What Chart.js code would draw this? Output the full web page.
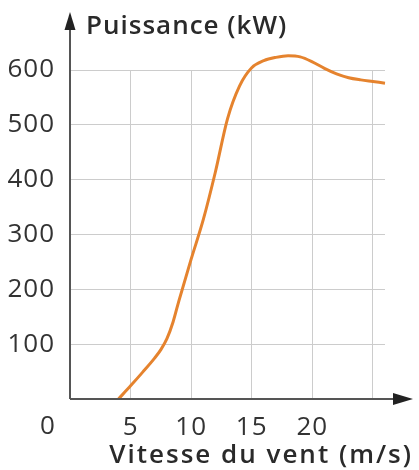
<!DOCTYPE html>
<html>
<head>
<meta charset="utf-8">
<script src="https://cdn.jsdelivr.net/npm/chart.js@4.4.0/dist/chart.umd.min.js"></script>
<style>
html,body{margin:0;padding:0;background:#fff;}
#wrap{width:419px;height:470px;position:relative;}
</style>
</head>
<body>
<div id="wrap"><canvas id="c"></canvas></div>
<script>
const windSpeed = [4, 5, 6, 7, 7.5, 8, 8.5, 9, 10, 11, 12, 13, 14, 15, 16, 17, 18, 19, 20, 21, 22, 23, 24, 25, 26];
const power = [0, 24, 49, 75, 90, 110, 140, 180, 255, 327, 414, 511, 571, 604, 617, 623, 626, 624, 615, 603, 593, 586, 582, 579, 576];
const xTicks = [0, 5, 10, 15, 20, 25];
const xTickLabels = ['', '5', '10', '15', '20', ''];
const yTicks = [0, 100, 200, 300, 400, 500, 600];
const yTickLabels = ['', '100', '200', '300', '400', '500', '600'];
const xTitle = 'Vitesse du vent (m/s)';
const yTitle = 'Puissance (kW)';
const originLabel = '0';

const FONT = "'Open Sans', sans-serif";
const TEXT = '#333333';
const AXIS = '#555555';

const spacingPlugin = {
  id: 'spacingPlugin',
  beforeDraw(chart) { chart.ctx.letterSpacing = '1px'; }
};

const axesPlugin = {
  id: 'axesPlugin',
  afterDraw(chart) {
    const ctx = chart.ctx;
    const a = chart.chartArea;
    const x0 = a.left, y0 = a.bottom;
    ctx.save();
    ctx.strokeStyle = AXIS;
    ctx.fillStyle = '#222';
    ctx.lineWidth = 2;
    ctx.beginPath();
    ctx.moveTo(x0, y0);
    ctx.lineTo(x0, 28);
    ctx.stroke();
    ctx.beginPath();
    ctx.moveTo(x0, 12);
    ctx.lineTo(x0 - 5.5, 30);
    ctx.lineTo(x0 + 5.5, 30);
    ctx.closePath();
    ctx.fill();
    ctx.beginPath();
    ctx.moveTo(x0, y0);
    ctx.lineTo(395, y0);
    ctx.stroke();
    ctx.beginPath();
    ctx.moveTo(413, y0);
    ctx.lineTo(393, y0 - 6);
    ctx.lineTo(393, y0 + 6);
    ctx.closePath();
    ctx.fill();
    ctx.fillStyle = '#2a2a2a';
    ctx.textBaseline = 'alphabetic';
    ctx.textAlign = 'left';
    ctx.letterSpacing = '1px';
    ctx.font = "600 26px " + FONT;
    ctx.fillText(yTitle, 86, 34);
    ctx.letterSpacing = '2px';
    ctx.font = "600 26px " + FONT;
    ctx.textAlign = 'right';
    ctx.fillText(xTitle, 413, 463);
    ctx.letterSpacing = '1px';
    ctx.font = "26px " + FONT;
    ctx.fillStyle = TEXT;
    ctx.textAlign = 'center';
    ctx.textBaseline = 'middle';
    ctx.fillText(originLabel, 48, 427);
    ctx.restore();
  }
};

new Chart(document.getElementById('c'), {
  type: 'line',
  data: {
    datasets: [{
      data: windSpeed.map((x, i) => ({x: x, y: power[i]})),
      borderColor: '#e5832e',
      borderWidth: 3,
      pointRadius: 0,
      cubicInterpolationMode: 'monotone',
      clip: false,
      fill: false
    }]
  },
  options: {
    responsive: true,
    maintainAspectRatio: false,
    animation: false,
    layout: {padding: {top: 70, right: 34, left: 0, bottom: 0}},
    plugins: {legend: {display: false}, tooltip: {enabled: false}},
    scales: {
      x: {
        type: 'linear',
        min: 0,
        max: 26,
        afterBuildTicks(s) { s.ticks = xTicks.map(v => ({value: v})); },
        afterFit(s) { s.height = 71; },
        grid: {color: '#cccccc', lineWidth: 1, drawTicks: false},
        border: {display: false},
        ticks: {
          padding: 13,
          color: TEXT,
          font: {family: FONT, size: 26},
          maxRotation: 0,
          autoSkip: false,
          callback(v) { const i = xTicks.indexOf(v); return i >= 0 ? xTickLabels[i] : ''; }
        }
      },
      y: {
        type: 'linear',
        min: 0,
        max: 600,
        afterBuildTicks(s) { s.ticks = yTicks.map(v => ({value: v})); },
        afterFit(s) { s.width = 70; },
        grid: {color: '#cccccc', lineWidth: 1, drawTicks: false},
        border: {display: false},
        ticks: {
          padding: 15,
          color: TEXT,
          font: {family: FONT, size: 26},
          autoSkip: false,
          callback(v) { const i = yTicks.indexOf(v); return i >= 0 ? yTickLabels[i] : ''; }
        }
      }
    }
  },
  plugins: [spacingPlugin, axesPlugin]
});
</script>
</body>
</html>
